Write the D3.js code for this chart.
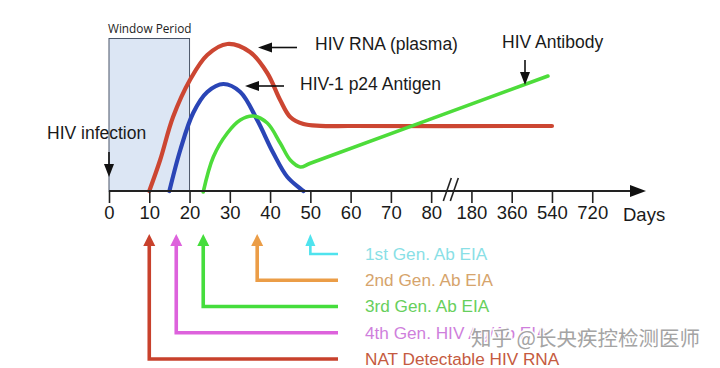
<!DOCTYPE html>
<html><head><meta charset="utf-8">
<script src="https://cdn.jsdelivr.net/npm/d3@7"></script>
<style>
html,body{margin:0;padding:0;background:#fff;}
svg{display:block;font-family:"Liberation Sans",Arial,sans-serif;}
</style></head>
<body><svg id="c" width="720" height="368"></svg>
<script>
// ---- data ----
const tickDays = [0,10,20,30,40,50,60,70,80,180,360,540,720];
const tickLabels = ["0","10","20","30","40","50","60","70","80","180","360","540","720"];
const windowPeriod = [0,20];
const rnaDays  = [10,12.7,15.9,20.1,24.4,29.4,35,39.3,42.5,45,48.3,52.5,60,540];
const rnaLevel = [0,31,74,111,136,147,139,118,91,74,67,65.2,65,65];
const p24Days  = [15,17.7,20.9,24.4,28.4,32.6,36.8,40.8,44.3,48.3];
const p24Level = [0,41,78,99,107,99,71,38,14,0];
const abDays   = [23.4,25.9,29.4,32.6,35.8,39.3,42.5,45,47.5,50,522];
const abLevel  = [-1,34,58,71,75,68,48,31,24,27.7,115];
const assayNames = ["1st Gen. Ab EIA","2nd Gen. Ab EIA","3rd Gen. Ab EIA","4th Gen. HIV Ag/Ab EIA","NAT Detectable HIV RNA"];
const assayDays  = [50,36.8,23.4,16.7,10];
const assayLine  = ["#4fe3ee","#eb9d47","#45dd3c","#dd62dc","#c8412c"];
const assayText  = ["#8adfe6","#d6a46c","#67cf5c","#cf7fdc","#c55a40"];

// ---- scales ----
const svg = d3.select("#c");
const x = d3.scaleLinear().domain(tickDays).range(tickDays.map((d,i)=>109 + i*40.27));
const y = d3.scaleLinear().domain([0,150]).range([191,41]);
const rowY = d3.scalePoint().domain(assayNames).range([254,359]);

// window period
svg.append("rect").attr("x",x(windowPeriod[0])).attr("y",38.5)
  .attr("width",x(windowPeriod[1])-x(windowPeriod[0])).attr("height",y(0)-38.5)
  .attr("fill","#dce6f4").attr("stroke","#4a5568").attr("stroke-width",1);
svg.append("text").attr("x",108).attr("y",33).text("Window Period")
  .attr("font-family","'Open Sans',sans-serif").attr("font-size",11.8).attr("fill","#222");

// curves
const line = d3.line().x(d=>x(d[0])).y(d=>y(d[1])).curve(d3.curveCatmullRom.alpha(0.5));
function curve(days, lv, color, w){
  svg.append("path").datum(days.map((d,i)=>[d,lv[i]])).attr("d",line)
    .attr("fill","none").attr("stroke",color).attr("stroke-width",w)
    .attr("stroke-linecap","round").attr("stroke-linejoin","round");
}
curve(rnaDays, rnaLevel, "#cc4632", 4.2);
curve(p24Days, p24Level, "#2a45b6", 4.2);
curve(abDays, abLevel, "#4ddc3a", 3.6);

// axis
const axisY = y(0);
const ax = svg.append("g").attr("transform",`translate(0,${axisY})`);
ax.append("line").attr("x1",x(0)).attr("x2",632).attr("stroke","#222").attr("stroke-width",2);
ax.append("path").attr("d","M630,-6 L646,0 L630,6 Z").attr("fill","#111");
const axis = d3.axisBottom(x).tickValues(tickDays).tickFormat((d,i)=>tickLabels[i]).tickSize(12).tickPadding(12);
const ag = ax.append("g").call(axis);
ag.select(".domain").remove();
ag.selectAll(".tick line").attr("stroke","#222").attr("stroke-width",1.6);
ag.selectAll(".tick text").attr("font-size",18.5).attr("fill","#1a1a1a")
  .attr("font-family","'Liberation Sans',Arial,sans-serif").attr("dy","0.2em");
ax.append("text").attr("x",623).attr("y",30).text("Days").attr("font-size",18.5).attr("fill","#1a1a1a");
// break marks
const bx = (x(80)+x(180))/2;
[-4,3].forEach(o=>{
  ax.append("line").attr("x1",bx+o-4).attr("y1",10).attr("x2",bx+o+4).attr("y2",-13)
    .attr("stroke","#222").attr("stroke-width",1.6);
});

// annotation arrows
function arrowH(x1,x2,yy){
  svg.append("line").attr("x1",x1).attr("x2",x2+10).attr("y1",yy).attr("y2",yy).attr("stroke","#111").attr("stroke-width",1.6);
  svg.append("path").attr("d",`M${x2},${yy} L${x2+14},${yy-5} L${x2+14},${yy+5} Z`).attr("fill","#111");
}
function arrowV(xx,y1,y2){
  svg.append("line").attr("x1",xx).attr("x2",xx).attr("y1",y1).attr("y2",y2-10).attr("stroke","#111").attr("stroke-width",1.6);
  svg.append("path").attr("d",`M${xx},${y2} L${xx-5},${y2-13} L${xx+5},${y2-13} Z`).attr("fill","#111");
}
arrowH(297,258,47.5);
arrowH(284,245,86);
arrowV(525,60,85);
arrowV(x(0),152,177);

const lab = (t,xx,yy)=>svg.append("text").attr("x",xx).attr("y",yy).attr("dy","0.36em")
  .attr("font-size",17.5).attr("fill","#1a1a1a").text(t);
lab("HIV RNA (plasma)",315,44);
lab("HIV-1 p24 Antigen",300,84);
lab("HIV Antibody",502,42);
lab("HIV infection",47,133);

// assay arrows
assayNames.forEach((n,i)=>{
  const xx = x(assayDays[i]), yy = rowY(n), tip = 234;
  const w = i===0 ? 2.6 : 3.6, hw = i===0 ? 5 : 6;
  svg.append("path").attr("d",`M${xx},${tip+8} L${xx},${yy} L338,${yy}`)
    .attr("fill","none").attr("stroke",assayLine[i]).attr("stroke-width",w);
  svg.append("path").attr("d",`M${xx},${tip} L${xx-hw},${tip+12} L${xx+hw},${tip+12} Z`).attr("fill",assayLine[i]);
  svg.append("text").attr("x",365).attr("y",yy).attr("dy","0.34em").attr("font-size",17.2)
    .attr("fill",assayText[i]).text(n);
});

// watermark
svg.append("text").attr("x",471).attr("y",339).attr("dy","0.36em")
  .attr("font-family","'Noto Sans CJK SC',sans-serif").attr("font-size",20.5)
  .attr("fill","#a0a0a0").attr("stroke","#ffffff").attr("stroke-width",3).attr("paint-order","stroke")
  .attr("opacity",0.95).text("知乎 @长央疾控检测医师");
</script></body></html>
